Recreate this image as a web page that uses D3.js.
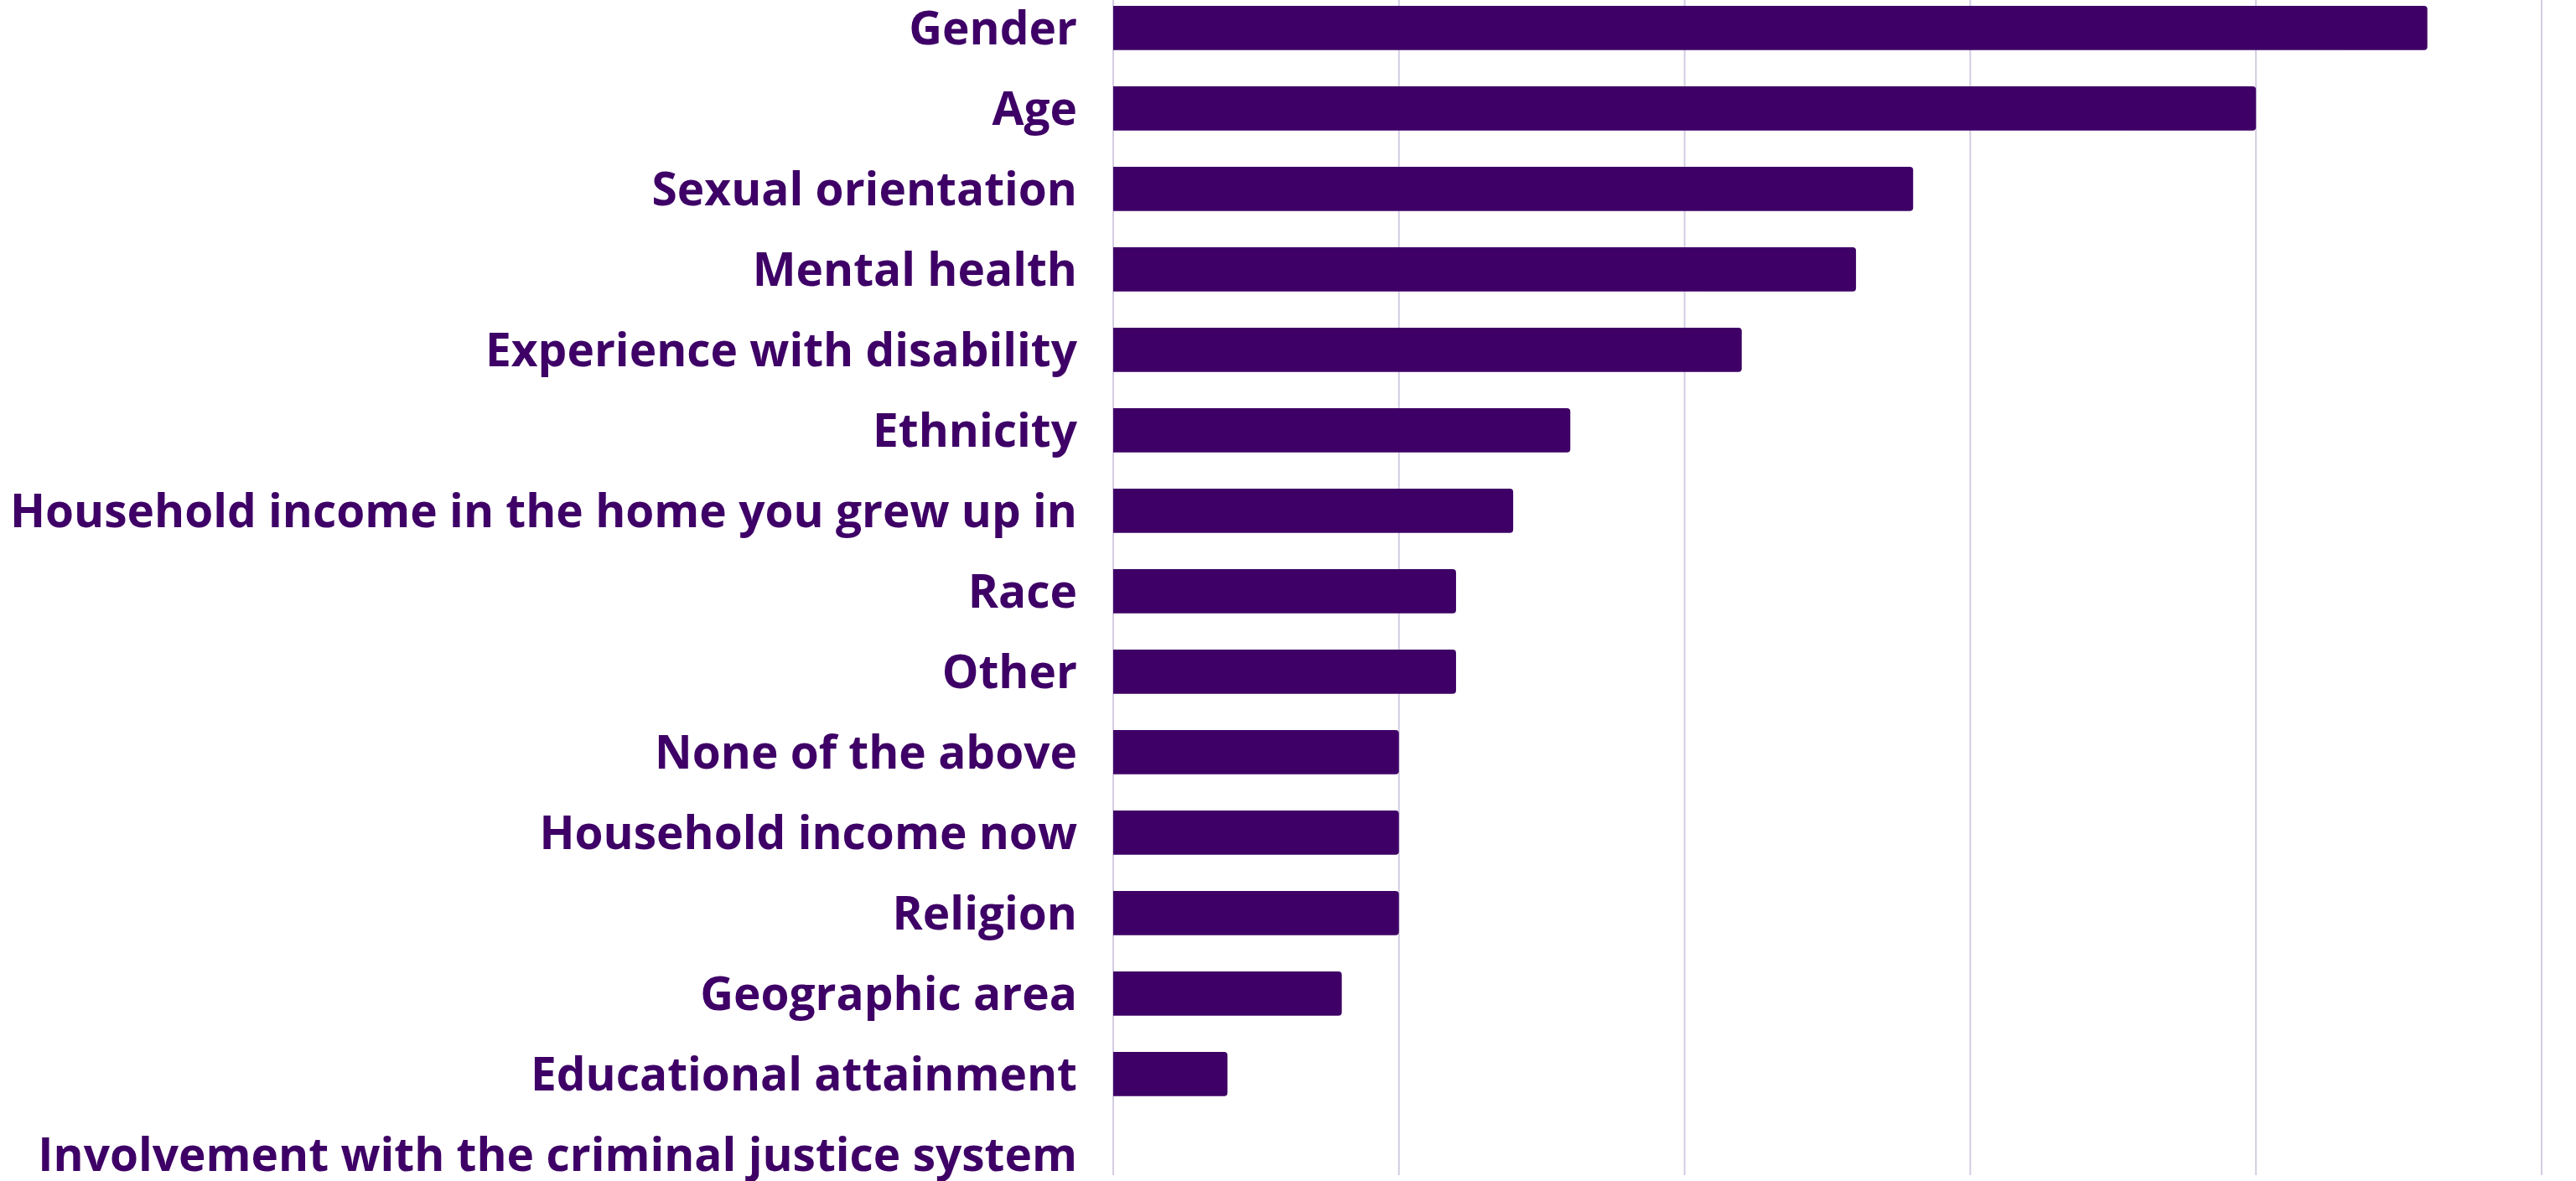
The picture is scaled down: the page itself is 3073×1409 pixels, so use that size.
<!DOCTYPE html>
<html>
<head>
<meta charset="utf-8">
<script src="https://cdn.jsdelivr.net/npm/d3@7"></script>
<style>
  html, body { margin: 0; padding: 0; background: #fff; }
  svg { display: block; }
</style>
</head>
<body>
<svg id="chart" width="3073" height="1409"></svg>
<script>
// categories, top to bottom
var categories = [
  "Gender",
  "Age",
  "Sexual orientation",
  "Mental health",
  "Experience with disability",
  "Ethnicity",
  "Household income in the home you grew up in",
  "Race",
  "Other",
  "None of the above",
  "Household income now",
  "Religion",
  "Geographic area",
  "Educational attainment",
  "Involvement with the criminal justice system"
];
var counts = [23, 20, 14, 13, 11, 8, 7, 6, 6, 5, 5, 5, 4, 2, 0];
var gridTicks = [0, 5, 10, 15, 20, 25];

var purple = "#3e0066";
var gridColor = "#d4cce2";

var svg = d3.select("#chart");

var x = d3.scaleLinear()
  .domain([0, 25])
  .range([1328, 3032]);

var y = d3.scaleBand()
  .domain(categories)
  .range([-14.6, 1425.4])
  .paddingInner(0.45)
  .paddingOuter(0.225);

// gridlines
svg.append("g")
  .attr("class", "grid")
  .selectAll("line")
  .data(gridTicks)
  .enter()
  .append("line")
    .attr("x1", function(d){ return x(d); })
    .attr("x2", function(d){ return x(d); })
    .attr("y1", 0)
    .attr("y2", 1402)
    .attr("stroke", gridColor)
    .attr("stroke-width", 2);

// bars
svg.append("g")
  .attr("class", "bars")
  .selectAll("path")
  .data(categories.map(function(c, i){ return { name: c, value: counts[i] }; }))
  .enter()
  .filter(function(d){ return d.value > 0; })
  .append("path")
    .attr("d", function(d){
      var x0 = x(0), x1 = x(d.value), y0 = y(d.name), h = y.bandwidth(), r = 4;
      return "M" + x0 + "," + y0
        + "H" + (x1 - r)
        + "Q" + x1 + "," + y0 + " " + x1 + "," + (y0 + r)
        + "V" + (y0 + h - r)
        + "Q" + x1 + "," + (y0 + h) + " " + (x1 - r) + "," + (y0 + h)
        + "H" + x0 + "Z";
    })
    .attr("fill", purple);

// category labels
svg.append("g")
  .attr("class", "labels")
  .selectAll("text")
  .data(categories)
  .enter()
  .append("text")
    .attr("x", 1285)
    .attr("y", function(d){ return y(d) + y.bandwidth() / 2; })
    .attr("dy", "0.35em")
    .attr("text-anchor", "end")
    .attr("font-family", "'Open Sans', sans-serif")
    .attr("font-weight", 700)
    .attr("font-size", "55px")
    .attr("fill", purple)
    .text(function(d){ return d; });
</script>
</body>
</html>
